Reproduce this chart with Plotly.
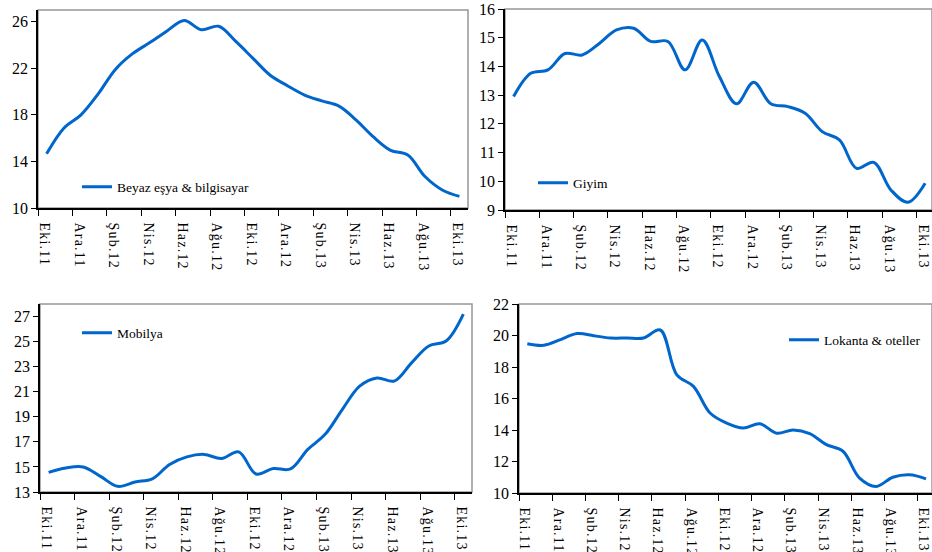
import plotly.graph_objects as go

months = ["Eki.11", "Kas.11", "Ara.11", "Oca.12", "Şub.12", "Mar.12", "Nis.12",
          "May.12", "Haz.12", "Tem.12", "Ağu.12", "Eyl.12", "Eki.12", "Kas.12",
          "Ara.12", "Oca.13", "Şub.13", "Mar.13", "Nis.13", "May.13", "Haz.13",
          "Tem.13", "Ağu.13", "Eyl.13", "Eki.13"]
tick_labels = ["Eki.11", "Ara.11", "Şub.12", "Nis.12", "Haz.12", "Ağu.12", "Eki.12",
               "Ara.12", "Şub.13", "Nis.13", "Haz.13", "Ağu.13", "Eki.13"]

beyaz_esya = [14.65, 16.85, 18.0, 19.8, 21.9, 23.25, 24.2, 25.2, 26.1, 25.3, 25.6, 24.3,
              22.85, 21.4, 20.5, 19.7, 19.2, 18.75, 17.55, 16.1, 14.95, 14.55, 12.7, 11.55, 11.0]
giyim = [12.95, 13.76, 13.88, 14.45, 14.4, 14.8, 15.27, 15.33, 14.87, 14.87, 13.88, 14.92,
         13.65, 12.7, 13.45, 12.7, 12.6, 12.37, 11.73, 11.44, 10.45, 10.66, 9.7, 9.27, 9.93]
mobilya = [14.57, 14.92, 15.0, 14.25, 13.45, 13.8, 14.05, 15.2, 15.8, 16.0, 15.67, 16.2,
           14.44, 14.87, 14.84, 16.4, 17.6, 19.6, 21.45, 22.1, 21.85, 23.3, 24.65, 25.05, 27.2]
lokanta = [19.48, 19.38, 19.74, 20.12, 19.99, 19.84, 19.84, 19.84, 20.35, 17.5, 16.77, 15.08,
           14.44, 14.13, 14.4, 13.8, 14.0, 13.77, 13.07, 12.65, 10.95, 10.42, 11.0, 11.16, 10.9]

W, H = 932, 552
LINE_COLOR = "rgb(0,102,204)"
FONT = "Liberation Serif, Times New Roman, serif"

x_idx = list(range(len(months)))
tick_pos = [i - 0.5 for i in range(0, len(months), 2)]
tick_text = ['<span style="letter-spacing:1.2px">%s</span>' % t for t in tick_labels]

panels = [
    dict(name="Beyaz eşya & bilgisayar", data=beyaz_esya, xpx=(38, 468), ypx=(10, 208),
         xend=24.5, yr=(10, 27), yt=[10, 14, 18, 22, 26], leg=(77, 187)),
    dict(name="Giyim", data=giyim, xpx=(505, 932), ypx=(9, 210),
         xend=24.4, yr=(9, 16), yt=[9, 10, 11, 12, 13, 14, 15, 16], leg=(533, 183)),
    dict(name="Mobilya", data=mobilya, xpx=(40, 472), ypx=(304, 492),
         xend=24.5, yr=(13, 28), yt=[13, 15, 17, 19, 21, 23, 25, 27], leg=(77, 333)),
    dict(name="Lokanta & oteller", data=lokanta, xpx=(519, 932), ypx=(304, 493),
         xend=24.36, yr=(10, 22), yt=[10, 12, 14, 16, 18, 20, 22], leg=(784, 340)),
]

fig = go.Figure()
layout = dict(
    width=W, height=H,
    margin=dict(l=0, r=0, t=0, b=0),
    paper_bgcolor="white", plot_bgcolor="white",
    font=dict(family=FONT, size=14, color="black"),
    shapes=[],
)

for k, p in enumerate(panels, start=1):
    sfx = "" if k == 1 else str(k)
    xa, ya = "x" + sfx, "y" + sfx
    leg = "legend" if k == 1 else "legend" + str(k)
    fig.add_trace(go.Scatter(
        x=x_idx, y=p["data"], customdata=months, name=p["name"],
        mode="lines", line=dict(color=LINE_COLOR, width=3, shape="spline", smoothing=1.0),
        xaxis=xa, yaxis=ya, legend=leg,
        hovertemplate="%{customdata}: %{y:.1f}<extra></extra>",
    ))
    x0, x1 = p["xpx"]
    yt_, yb_ = p["ypx"]
    cat_w = (x1 - x0) / (p["xend"] + 0.5)
    layout["xaxis" + sfx] = dict(
        domain=[x0 / W, x1 / W], anchor=ya, range=[-0.5001, p["xend"]],
        tickmode="array", tickvals=tick_pos, ticktext=tick_text,
        tickangle=90, ticklabelshift=round(cat_w / 2) - 2, ticklabeloverflow="allow",
        ticklabelstandoff=4,
        ticks="outside", ticklen=6, tickcolor="black", tickwidth=1,
        showline=True, linecolor="black", linewidth=1.5,
        showgrid=False, zeroline=False, automargin=False,
        tickfont=dict(family=FONT, size=14, color="black"),
    )
    layout["yaxis" + sfx] = dict(
        domain=[1 - yb_ / H, 1 - yt_ / H], anchor=xa, range=list(p["yr"]),
        tickmode="array", tickvals=p["yt"],
        ticks="outside", ticklen=5, tickcolor="black", tickwidth=1,
        showline=True, linecolor="black", linewidth=1.5,
        showgrid=False, zeroline=False, automargin=False,
        tickfont=dict(family=FONT, size=16, color="black"),
    )
    layout["shapes"].append(dict(
        type="rect", xref=xa + " domain", yref=ya + " domain",
        x0=0, x1=1, y0=0, y1=1, line=dict(color="rgb(150,150,150)", width=1.5),
        layer="below",
    ))
    lx, ly = p["leg"]
    layout[leg] = dict(
        x=lx / W, y=1 - ly / H, xanchor="left", yanchor="middle",
        xref="paper", yref="paper",
        bgcolor="rgba(0,0,0,0)", borderwidth=0,
        font=dict(family=FONT, size=13.5, color="black"),
        itemwidth=30,
    )

fig.update_layout(**layout)
fig.update_layout(showlegend=True)
fig.write_html("out.html", config={"displayModeBar": False},
               post_script="document.body.style.margin='0';")
